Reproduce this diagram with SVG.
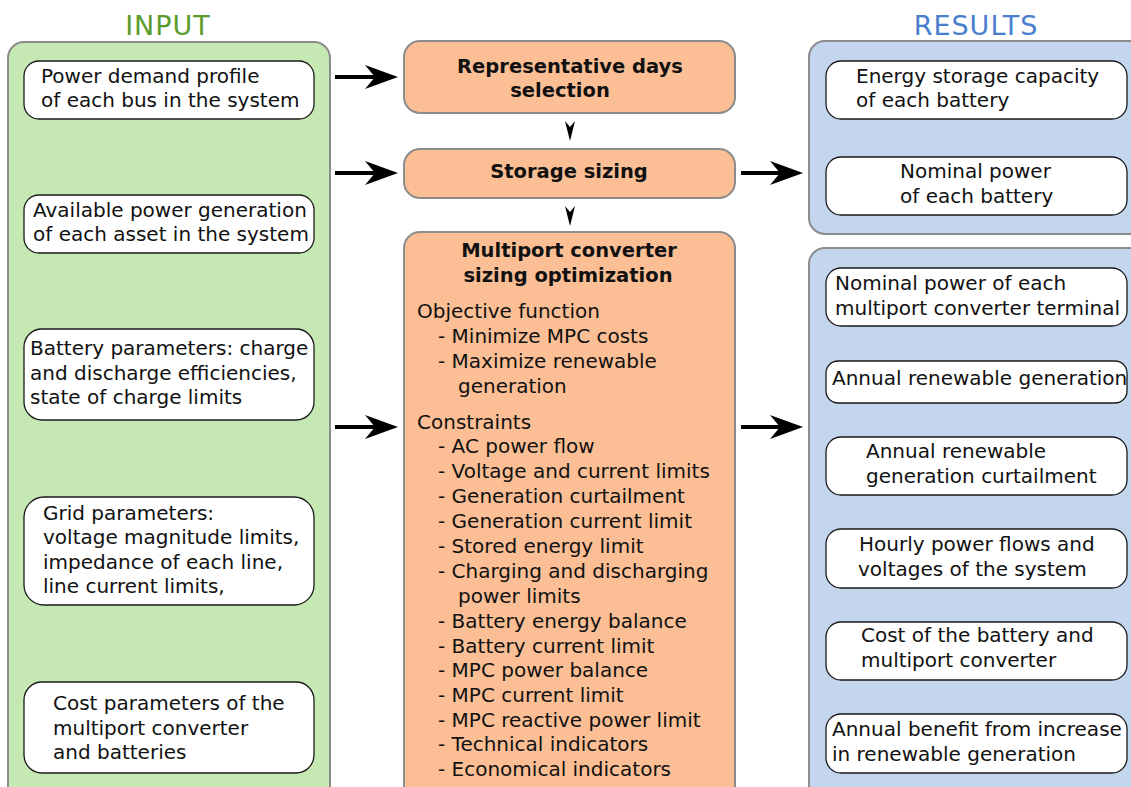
<svg xmlns="http://www.w3.org/2000/svg" width="1131" height="787" viewBox="0 0 1131 787">
<defs>
<style>
.t{font-family:"DejaVu Sans","Verdana",sans-serif;font-size:20px;fill:#111}
.b{font-family:"DejaVu Sans","Verdana",sans-serif;font-size:19.5px;font-weight:bold;fill:#111;text-anchor:middle}
.h{font-family:"DejaVu Sans","Verdana",sans-serif;font-size:27px;letter-spacing:1px;text-anchor:middle}
.green{fill:#c6e8b3;stroke:#8c8c8c;stroke-width:2}
.orange{fill:#fcbf95;stroke:#8c8c8c;stroke-width:2}
.blue{fill:#c4d5ee;stroke:#8c8c8c;stroke-width:2}
.wb{fill:#fff;stroke:#1a1a1a;stroke-width:1.3}
.ln{stroke:#000;stroke-width:4;fill:none}
</style>
<marker id="ah" markerUnits="userSpaceOnUse" markerWidth="34" markerHeight="26" refX="13" refY="12" orient="auto" overflow="visible">
<path d="M0,0 L33,12 L0,24 L10,12 Z" fill="#000"/>
</marker>
</defs>
<rect width="1131" height="787" fill="#fff"/>

<g id="input">
<text class="h" x="168" y="35" fill="#5b9b2b">INPUT</text>
<rect class="green" x="8" y="42" width="322" height="770" rx="16"/>
</g>
<g id="in1">
<rect class="wb" x="24" y="61" width="290" height="58" rx="15"/>
<text class="t" x="41" y="83">Power demand profile</text>
<text class="t" x="41" y="107">of each bus in the system</text>
</g>
<g id="in2">
<rect class="wb" x="24" y="195" width="290" height="58" rx="15"/>
<text class="t" x="33" y="217">Available power generation</text>
<text class="t" x="33" y="241">of each asset in the system</text>
</g>
<g id="in3">
<rect class="wb" x="24" y="329" width="290" height="91" rx="18"/>
<text class="t" x="30" y="355">Battery parameters: charge</text>
<text class="t" x="30" y="380">and discharge efficiencies,</text>
<text class="t" x="30" y="404">state of charge limits</text>
</g>
<g id="in4">
<rect class="wb" x="24" y="497" width="290" height="108" rx="20"/>
<text class="t" x="43" y="520">Grid parameters:</text>
<text class="t" x="43" y="544">voltage magnitude limits,</text>
<text class="t" x="43" y="569">impedance of each line,</text>
<text class="t" x="43" y="593">line current limits,</text>
</g>
<g id="in5">
<rect class="wb" x="24" y="682" width="290" height="91" rx="18"/>
<text class="t" x="53" y="710">Cost parameters of the</text>
<text class="t" x="53" y="735">multiport converter</text>
<text class="t" x="53" y="759">and batteries</text>
</g>

<g id="days">
<rect class="orange" x="404" y="41" width="331" height="72" rx="16"/>
<text class="b" x="570" y="73">Representative days</text>
<text class="b" x="560" y="97">selection</text>
</g>
<g id="storage">
<rect class="orange" x="404" y="149" width="331" height="49" rx="16"/>
<text class="b" x="569" y="178">Storage sizing</text>
</g>
<g id="mpc">
<rect class="orange" x="404" y="232" width="331" height="580" rx="16"/>
<text class="b" x="569" y="257">Multiport converter</text>
<text class="b" x="568" y="282">sizing optimization</text>
<text class="t" x="417" y="318">Objective function</text>
<text class="t" x="438" y="343">- Minimize MPC costs</text>
<text class="t" x="438" y="368">- Maximize renewable</text>
<text class="t" x="458" y="393">generation</text>
<text class="t" x="417" y="429">Constraints</text>
<text class="t" x="438" y="453">- AC power flow</text>
<text class="t" x="438" y="478">- Voltage and current limits</text>
<text class="t" x="438" y="503">- Generation curtailment</text>
<text class="t" x="438" y="528">- Generation current limit</text>
<text class="t" x="438" y="553">- Stored energy limit</text>
<text class="t" x="438" y="578">- Charging and discharging</text>
<text class="t" x="458" y="603">power limits</text>
<text class="t" x="438" y="628">- Battery energy balance</text>
<text class="t" x="438" y="653">- Battery current limit</text>
<text class="t" x="438" y="677">- MPC power balance</text>
<text class="t" x="438" y="702">- MPC current limit</text>
<text class="t" x="438" y="727">- MPC reactive power limit</text>
<text class="t" x="438" y="751">- Technical indicators</text>
<text class="t" x="438" y="776">- Economical indicators</text>
</g>

<g id="results">
<text class="h" x="976" y="35" fill="#4a7ece">RESULTS</text>
<rect class="blue" x="809" y="41" width="340" height="193" rx="16"/>
<rect class="blue" x="809" y="248" width="340" height="564" rx="16"/>
</g>
<g id="r1">
<rect class="wb" x="826" y="61" width="301" height="58" rx="15"/>
<text class="t" x="856" y="83">Energy storage capacity</text>
<text class="t" x="856" y="107">of each battery</text>
</g>
<g id="r2">
<rect class="wb" x="826" y="157" width="301" height="58" rx="15"/>
<text class="t" x="900" y="178">Nominal power</text>
<text class="t" x="900" y="203">of each battery</text>
</g>
<g id="r3">
<rect class="wb" x="826" y="268" width="301" height="58" rx="15"/>
<text class="t" x="835" y="290">Nominal power of each</text>
<text class="t" x="835" y="315">multiport converter terminal</text>
</g>
<g id="r4">
<rect class="wb" x="826" y="361" width="301" height="42" rx="12"/>
<text class="t" x="832" y="385">Annual renewable generation</text>
</g>
<g id="r5">
<rect class="wb" x="826" y="437" width="301" height="58" rx="15"/>
<text class="t" x="866" y="458">Annual renewable</text>
<text class="t" x="866" y="483">generation curtailment</text>
</g>
<g id="r6">
<rect class="wb" x="826" y="529" width="301" height="59" rx="15"/>
<text class="t" x="859" y="551">Hourly power flows and</text>
<text class="t" x="858" y="576">voltages of the system</text>
</g>
<g id="r7">
<rect class="wb" x="826" y="622" width="301" height="58" rx="15"/>
<text class="t" x="861" y="642">Cost of the battery and</text>
<text class="t" x="861" y="667">multiport converter</text>
</g>
<g id="r8">
<rect class="wb" x="826" y="714" width="301" height="59" rx="15"/>
<text class="t" x="832" y="736">Annual benefit from increase</text>
<text class="t" x="832" y="761">in renewable generation</text>
</g>

<g id="connectors">
<line class="ln" x1="335" y1="77" x2="378" y2="77" marker-end="url(#ah)"/>
<line class="ln" x1="335" y1="173" x2="378" y2="173" marker-end="url(#ah)"/>
<line class="ln" x1="335" y1="427" x2="378" y2="427" marker-end="url(#ah)"/>
<line class="ln" x1="741" y1="173" x2="783" y2="173" marker-end="url(#ah)"/>
<line class="ln" x1="741" y1="427" x2="783" y2="427" marker-end="url(#ah)"/>
<path d="M565,121 L570,127 L575,121 L570,141 Z" fill="#000"/>
<path d="M565,206 L570,212 L575,206 L570,226 Z" fill="#000"/>
</g>
</svg>
